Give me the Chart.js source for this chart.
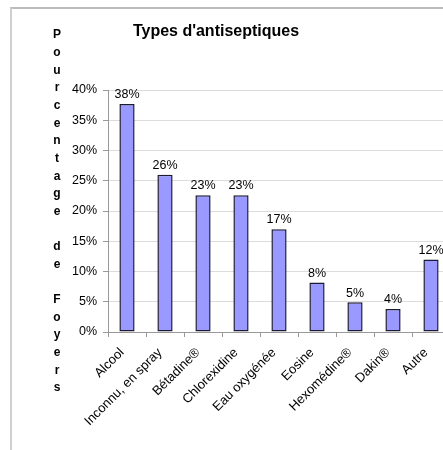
<!DOCTYPE html>
<html lang="fr">
<head>
  <meta charset="UTF-8">
  <title>Types d'antiseptiques</title>
  <script src="https://cdn.jsdelivr.net/npm/chart.js"></script>
  <style>
    html, body { margin: 0; padding: 0; background: #fff; overflow: hidden; }
    #wrap { position: relative; width: 443px; height: 450px; overflow: hidden; }
    #frame { position: absolute; left: 10px; top: 7px; width: 500px; height: 500px;
             border-top: 2px solid #bcbcbc; border-left: 2px solid #cfcfcf; }
    #myChart { position: absolute; left: 0; top: 0; }
  </style>
</head>
<body>
  <div id="wrap">
    <div id="frame"></div>
    <canvas id="myChart" width="460" height="450"></canvas>
  </div>

  <script>
    // Données
    const categories = ['Alcool', 'Inconnu, en spray', 'Bétadine®', 'Chlorexidine', 'Eau oxygénée',
                        'Eosine', 'Hexomédine®', 'Dakin®', 'Autre'];
    const values = [37.7, 26.0, 22.6, 22.6, 17.0, 8.2, 4.9, 3.8, 12.0];
    const chartTitle = "Types d'antiseptiques";
    const yTitle = 'Pourcentage de Foyers';

    Chart.defaults.font.family = '"Liberation Sans", Arial, sans-serif';
    Chart.defaults.color = '#000';

    // étiquettes, titre et titre vertical
    const textPlugin = {
      id: 'textPlugin',
      afterDatasetsDraw(chart) {
        const ctx = chart.ctx;
        const meta = chart.getDatasetMeta(0);
        ctx.save();
        ctx.font = '12.5px "Liberation Sans", Arial, sans-serif';
        ctx.fillStyle = '#000';
        ctx.textAlign = 'center';
        ctx.textBaseline = 'bottom';
        meta.data.forEach((bar, i) => {
          ctx.fillText(Math.round(values[i]) + '%', bar.x, bar.y - 3);
        });
        ctx.restore();
      },
      afterDraw(chart) {
        const ctx = chart.ctx;
        ctx.save();
        ctx.fillStyle = '#000';
        ctx.textAlign = 'center';
        ctx.textBaseline = 'middle';
        ctx.font = 'bold 16px "Liberation Sans", Arial, sans-serif';
        ctx.fillText(chartTitle, 216, 32);
        ctx.font = 'bold 12px "Liberation Sans", Arial, sans-serif';
        yTitle.split('').forEach((ch, i) => {
          ctx.fillText(ch, 57, 35 + i * 17.65);
        });
        ctx.restore();
      }
    };

    const ctx = document.getElementById('myChart').getContext('2d');
    const myChart = new Chart(ctx, {
      type: 'bar',
      data: {
        labels: categories,
        datasets: [{
          data: values,
          backgroundColor: '#9999ff',
          borderColor: '#1a1a33',
          borderWidth: 1.5,
          borderSkipped: false,
          categoryPercentage: 1,
          barPercentage: 0.4
        }]
      },
      options: {
        responsive: false,
        animation: false,
        layout: { padding: { left: 60, top: 90, right: 10, bottom: 0 } },
        plugins: {
          legend: { display: false },
          tooltip: { enabled: false }
        },
        scales: {
          x: {
            grid: { drawOnChartArea: false, offset: true, tickLength: 5, color: '#999' },
            border: { color: '#999' },
            ticks: { minRotation: 45, maxRotation: 45, autoSkip: false, font: { size: 13 },
                     padding: 8, labelOffset: -5 },
            afterFit(scale) { scale.height = 118; }
          },
          y: {
            min: 0,
            max: 40,
            ticks: { stepSize: 5, callback: v => v + '%', font: { size: 12.5 }, padding: 6 },
            grid: { color: '#dcdcdc', tickColor: '#999', tickLength: 5 },
            border: { color: '#999' },
            afterFit(scale) { scale.width = 48; }
          }
        }
      },
      plugins: [textPlugin]
    });
  </script>
</body>
</html>
